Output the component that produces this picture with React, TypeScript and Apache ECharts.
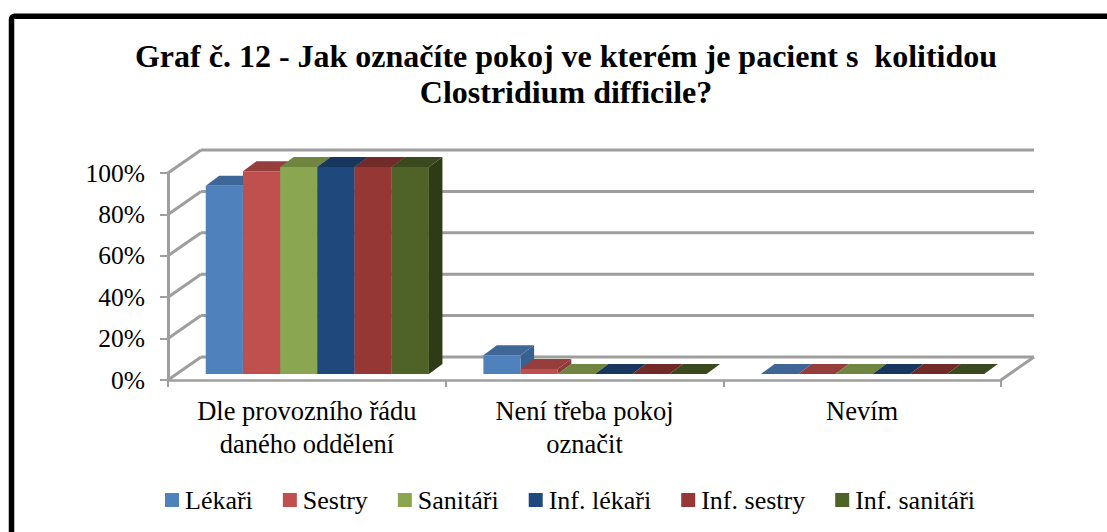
import React, { useEffect, useRef } from "react";
import * as echarts from "echarts";

const categories = ["Dle provozního řádu\ndaného oddělení", "Není třeba pokoj\noznačit", "Nevím"];
const seriesNames = ["Lékaři", "Sestry", "Sanitáři", "Inf. lékaři", "Inf. sestry", "Inf. sanitáři"];
const lekari = [91, 9, 0];
const sestry = [98, 2.4, 0];
const sanitari = [100, 0, 0];
const infLekari = [100, 0, 0];
const infSestry = [100, 0, 0];
const infSanitari = [100, 0, 0];
const allValues = [lekari, sestry, sanitari, infLekari, infSestry, infSanitari];
const frontColors = ["#4F81BD", "#C0504D", "#8BA650", "#1F497D", "#943735", "#4F6228"];
const topColors = ["#3E6797", "#953E3C", "#6F8540", "#17375E", "#722A28", "#3B4A1E"];
const sideColors = ["#38618F", "#8A3A38", "#657A3A", "#153356", "#672624", "#2F3B17"];
const yTicks = [0, 20, 40, 60, 80, 100];

const DEPTH_X = 33;
const DEPTH_Y = 23;
const BAR_OFF_X = 10.5;
const BAR_OFF_Y = 6;
const BAR_DX = 13.5;
const BAR_DY = 10;
const BAR_W = 37.2;
const GRAY = "#9E9E9E";

function barRenderer(si: number) {
  return (_p: any, api: any) => {
    const cat = api.value(0);
    const val = api.value(1);
    const bw = api.size([1, 0])[0];
    const base = api.coord([cat, 0]);
    const top = api.coord([cat, val]);
    const x0 = base[0] - bw / 2 + (bw - BAR_W * 6) / 2 + BAR_W * si + BAR_OFF_X;
    const x1 = x0 + BAR_W;
    const yb = base[1] - BAR_OFF_Y;
    const yt = top[1] - BAR_OFF_Y;
    const children: any[] = [];
    children.push({
      type: "polygon",
      shape: { points: [[x1, yt], [x1 + BAR_DX, yt - BAR_DY], [x1 + BAR_DX, yb - BAR_DY], [x1, yb]] },
      style: { fill: sideColors[si] },
    });
    children.push({
      type: "polygon",
      shape: { points: [[x0, yt], [x1, yt], [x1 + BAR_DX, yt - BAR_DY], [x0 + BAR_DX, yt - BAR_DY]] },
      style: { fill: topColors[si] },
    });
    if (val > 0) {
      children.push({
        type: "rect",
        shape: { x: x0, y: yt, width: BAR_W, height: yb - yt },
        style: { fill: frontColors[si] },
      });
    }
    return { type: "group", children };
  };
}

function wallRenderer(_p: any, api: any) {
  const v = api.value(0);
  const rect = _p.coordSys;
  const y = api.coord([0, v])[1];
  const lx = rect.x;
  const rx = rect.x + rect.width;
  const line = { stroke: GRAY, lineWidth: 3 };
  const children: any[] = [
    { type: "line", shape: { x1: lx, y1: y, x2: lx + DEPTH_X, y2: y - DEPTH_Y }, style: line },
    { type: "line", shape: { x1: lx + DEPTH_X, y1: y - DEPTH_Y, x2: rx + DEPTH_X, y2: y - DEPTH_Y }, style: line },
  ];
  if (v === 0) {
    children.push({ type: "line", shape: { x1: rx, y1: y, x2: rx + DEPTH_X, y2: y - DEPTH_Y }, style: line });
  }
  return { type: "group", children };
}

export default function App() {
  const ref = useRef<HTMLDivElement>(null);
  useEffect(() => {
    const chart = echarts.init(ref.current!, null, { renderer: "svg" });
    const font = "'Liberation Serif', 'Times New Roman', serif";
    chart.setOption({
      animation: false,
      backgroundColor: "#fff",
      textStyle: { fontFamily: font },
      title: {
        text: "Graf č. 12 - Jak označíte pokoj ve kterém je pacient s  kolitidou\nClostridium difficile?",
        left: 561,
        top: 33,
        textAlign: "center",
        textStyle: { fontFamily: font, fontWeight: "bold", fontSize: 32, lineHeight: 36, color: "#000" },
      },
      legend: {
        data: seriesNames,
        left: 165,
        top: 487,
        padding: 0,
        itemWidth: 14,
        itemHeight: 14,
        itemGap: 30,
        icon: "rect",
        textStyle: { fontFamily: font, fontSize: 26, color: "#000", padding: [0, 0, 0, 1] },
      },
      grid: { left: 168, top: 173, width: 833, height: 207 },
      xAxis: {
        type: "category",
        data: categories,
        axisLine: { show: true, lineStyle: { color: GRAY, width: 2.5 } },
        axisTick: { show: true, length: 7, lineStyle: { color: GRAY, width: 2 } },
        axisLabel: { fontFamily: font, fontSize: 26.5, color: "#000", margin: 14, lineHeight: 33, interval: 0 },
      },
      yAxis: {
        type: "value",
        min: 0,
        max: 100,
        interval: 20,
        axisLine: { show: true, lineStyle: { color: GRAY, width: 3 } },
        axisTick: { show: true, length: 8, lineStyle: { color: GRAY, width: 2 } },
        splitLine: { show: false },
        axisLabel: { fontFamily: font, fontSize: 25.5, color: "#000", margin: 23, formatter: "{value}%" },
      },
      graphic: [
        {
          type: "rect",
          silent: true,
          z: -1,
          shape: { x: 11.5, y: 16.2, width: 1300, height: 800, r: 3 },
          style: { fill: "none", stroke: "#000", lineWidth: 5.5 },
        },
      ],
      series: [
        {
          type: "custom",
          silent: true,
          legendHoverLink: false,
          name: "wall",
          data: yTicks.map((v) => [v]),
          encode: { y: 0 },
          renderItem: wallRenderer,
          z: 1,
        },
        ...seriesNames.map((name, si) => ({
          type: "custom",
          name,
          itemStyle: { color: frontColors[si] },
          data: allValues[si].map((v, c) => [c, v]),
          encode: { x: 0, y: 1 },
          renderItem: barRenderer(si),
          z: 2,
        })),
      ],
    });
    return () => chart.dispose();
  }, []);
  return <div ref={ref} style={{ position: "fixed", left: 0, top: 0, width: 1107, height: 532 }} />;
}
